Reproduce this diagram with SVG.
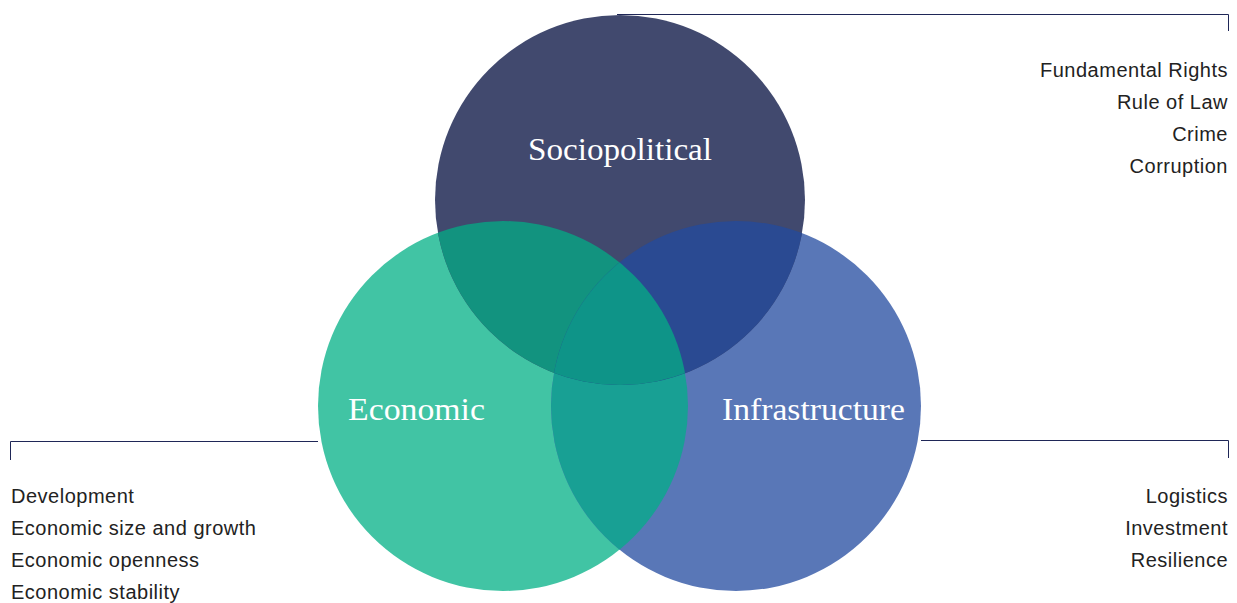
<svg xmlns="http://www.w3.org/2000/svg" width="1237" height="603" viewBox="0 0 1237 603">
  <style>
    .item { font-family: "Liberation Sans", Arial, sans-serif; font-size: 20px; fill: #222222; letter-spacing: 0.5px; }
    .right { text-anchor: end; }
    .title { font-family: "Liberation Serif", "Times New Roman", serif; font-size: 32px; fill: #ffffff; }
    .bracket { fill: none; stroke: #1f2757; stroke-width: 1; }
  </style>
  <defs>
    <circle id="c-socio" cx="620" cy="200" r="185"/>
    <circle id="c-eco" cx="503" cy="406" r="185"/>
    <circle id="c-infra" cx="736" cy="406" r="185"/>
    <clipPath id="clip-eco"><use href="#c-eco"/></clipPath>
    <clipPath id="clip-infra"><use href="#c-infra"/></clipPath>
  </defs>

  <rect width="1237" height="603" fill="#ffffff"/>

  <!-- bracket lines from each circle to its list -->
  <g id="connectors">
    <polyline class="bracket" points="617,14.5 1228.5,14.5 1228.5,31"/>
    <polyline class="bracket" points="318,441.5 10.5,441.5 10.5,460"/>
    <polyline class="bracket" points="921,440.5 1228.5,440.5 1228.5,458"/>
  </g>

  <g id="economic">
    <use href="#c-eco" fill="#41c4a4"/>
  </g>
  <g id="infrastructure">
    <use href="#c-infra" fill="#5977b7"/>
  </g>
  <g id="sociopolitical">
    <use href="#c-socio" fill="#41496e"/>
  </g>

  <!-- overlap regions -->
  <g id="overlaps">
    <use href="#c-infra" fill="#18a094" clip-path="url(#clip-eco)"/>
    <use href="#c-socio" fill="#12937f" clip-path="url(#clip-eco)"/>
    <use href="#c-socio" fill="#2a4a92" clip-path="url(#clip-infra)"/>
    <g clip-path="url(#clip-infra)">
      <use href="#c-socio" fill="#0e9488" clip-path="url(#clip-eco)"/>
    </g>
  </g>

  <g id="labels">
    <text class="title" x="528" y="160" textLength="184" lengthAdjust="spacingAndGlyphs">Sociopolitical</text>
    <text class="title" x="348" y="420" textLength="137" lengthAdjust="spacingAndGlyphs">Economic</text>
    <text class="title" x="722" y="420" textLength="183" lengthAdjust="spacingAndGlyphs">Infrastructure</text>
  </g>

  <g id="sociopolitical-list">
    <text class="item right" x="1228" y="77">Fundamental Rights</text>
    <text class="item right" x="1228" y="109">Rule of Law</text>
    <text class="item right" x="1228" y="141">Crime</text>
    <text class="item right" x="1228" y="173">Corruption</text>
  </g>
  <g id="economic-list">
    <text class="item" x="11" y="503">Development</text>
    <text class="item" x="11" y="535">Economic size and growth</text>
    <text class="item" x="11" y="567">Economic openness</text>
    <text class="item" x="11" y="599">Economic stability</text>
  </g>
  <g id="infrastructure-list">
    <text class="item right" x="1228" y="503">Logistics</text>
    <text class="item right" x="1228" y="535">Investment</text>
    <text class="item right" x="1228" y="567">Resilience</text>
  </g>
</svg>
